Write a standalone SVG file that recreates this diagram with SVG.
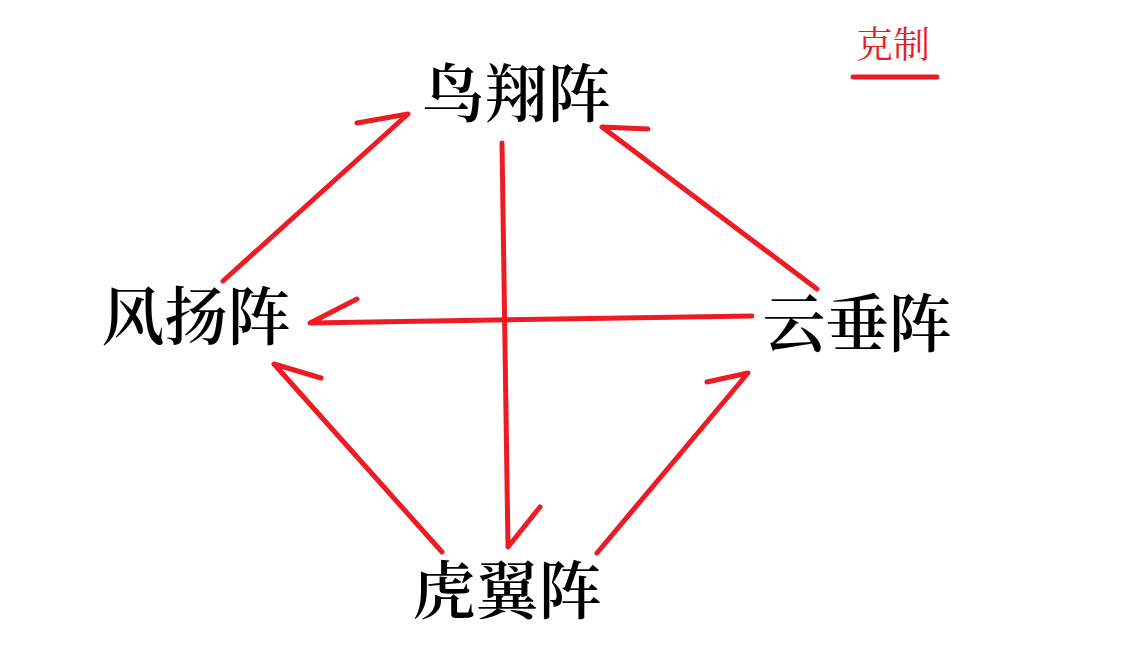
<svg xmlns="http://www.w3.org/2000/svg" width="1124" height="646" viewBox="0 0 1124 646">
<style>
.node{font-family:"Liberation Serif","Noto Serif CJK SC","Noto Sans CJK SC",serif;font-size:63px;font-weight:600;fill:#000;text-anchor:middle}
.legend{font-family:"Liberation Serif","Noto Serif CJK SC","Noto Sans CJK SC",serif;font-size:37px;fill:#ED1C24;text-anchor:middle}
.c{fill:none;stroke:#ED1C24;stroke-width:5;stroke-linecap:round;stroke-linejoin:round}
</style>
<rect width="1124" height="646" fill="#fff"/>
<g id="legend">
<text class="legend" x="893" y="58">克制</text>
<line class="c" x1="853" y1="77" x2="937" y2="77"/>
</g>
<g id="node-niaoxiang"><text class="node" x="516" y="116">鸟翔阵</text></g>
<g id="node-fengyang"><text class="node" x="196" y="339">风扬阵</text></g>
<g id="node-yunchui"><text class="node" x="857" y="346">云垂阵</text></g>
<g id="node-huyi"><text class="node" x="507" y="613">虎翼阵</text></g>
<g id="connectors">
<polyline class="c" points="223,281 408,114 357,123"/>
<polyline class="c" points="817,289 602,127 648,129"/>
<polyline class="c" points="752,316 310,323 357,299"/>
<polyline class="c" points="502,143 508,547 540,507"/>
<polyline class="c" points="442,552 274,364 321,378"/>
<polyline class="c" points="597,553 748,373 707,382"/>
</g>
</svg>
